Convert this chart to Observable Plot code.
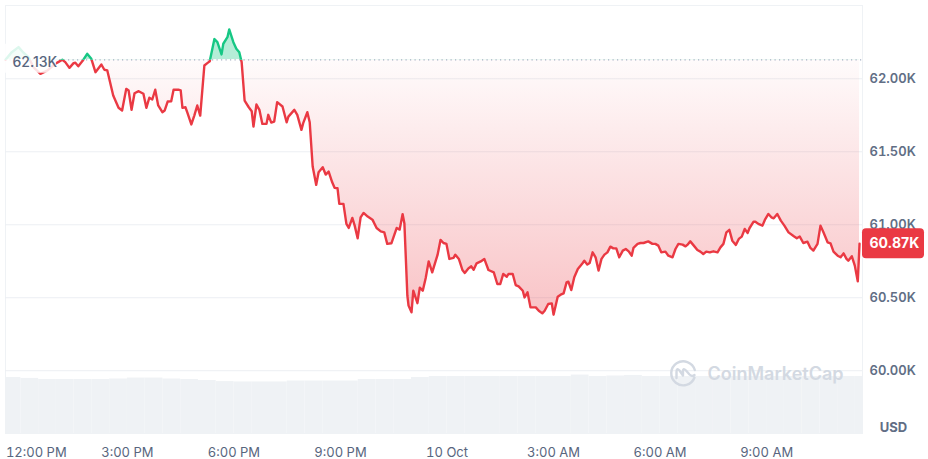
<!DOCTYPE html>
<html><head><meta charset="utf-8">
<script src="https://cdn.jsdelivr.net/npm/d3@7"></script>
<script src="https://cdn.jsdelivr.net/npm/@observablehq/plot@0.6"></script>
<style>
html,body{margin:0;padding:0;background:#fff;}
#chart{position:relative;width:928px;height:459px;}
#chart svg{position:absolute;left:0;top:0;}
</style></head><body><div id="chart"></div>
<script>
// ---- data (BTC/USD, 9–10 Oct 2024) ----
const times = [
"2024-10-09T11:34","2024-10-09T11:44","2024-10-09T11:56","2024-10-09T12:04","2024-10-09T12:13","2024-10-09T12:21","2024-10-09T12:33","2024-10-09T12:45","2024-10-09T12:58","2024-10-09T13:03",
"2024-10-09T13:10","2024-10-09T13:15","2024-10-09T13:22","2024-10-09T13:29","2024-10-09T13:32","2024-10-09T13:37","2024-10-09T13:44","2024-10-09T13:52","2024-10-09T13:59","2024-10-09T14:06",
"2024-10-09T14:16","2024-10-09T14:21","2024-10-09T14:26","2024-10-09T14:36","2024-10-09T14:45","2024-10-09T14:51","2024-10-09T14:58","2024-10-09T15:02","2024-10-09T15:07","2024-10-09T15:12",
"2024-10-09T15:19","2024-10-09T15:27","2024-10-09T15:32","2024-10-09T15:37","2024-10-09T15:42","2024-10-09T15:47","2024-10-09T15:52","2024-10-09T15:59","2024-10-09T16:03","2024-10-09T16:08",
"2024-10-09T16:14","2024-10-09T16:18","2024-10-09T16:26","2024-10-09T16:30","2024-10-09T16:33","2024-10-09T16:38","2024-10-09T16:41","2024-10-09T16:48","2024-10-09T16:53","2024-10-09T16:58",
"2024-10-09T17:03","2024-10-09T17:10","2024-10-09T17:15","2024-10-09T17:19","2024-10-09T17:27","2024-10-09T17:32","2024-10-09T17:39","2024-10-09T17:42","2024-10-09T17:49","2024-10-09T17:52",
"2024-10-09T17:59","2024-10-09T18:04","2024-10-09T18:09","2024-10-09T18:13","2024-10-09T18:18","2024-10-09T18:25","2024-10-09T18:30","2024-10-09T18:33","2024-10-09T18:38","2024-10-09T18:43",
"2024-10-09T18:48","2024-10-09T18:55","2024-10-09T18:58","2024-10-09T19:03","2024-10-09T19:08","2024-10-09T19:13","2024-10-09T19:22","2024-10-09T19:29","2024-10-09T19:32","2024-10-09T19:42",
"2024-10-09T19:47","2024-10-09T19:54","2024-10-09T19:57","2024-10-09T20:04","2024-10-09T20:08","2024-10-09T20:13","2024-10-09T20:19","2024-10-09T20:23","2024-10-09T20:30","2024-10-09T20:35",
"2024-10-09T20:40","2024-10-09T20:46","2024-10-09T20:50","2024-10-09T20:55","2024-10-09T20:58","2024-10-09T21:05","2024-10-09T21:10","2024-10-09T21:14","2024-10-09T21:20","2024-10-09T21:24",
"2024-10-09T21:29","2024-10-09T21:34","2024-10-09T21:39","2024-10-09T21:46","2024-10-09T21:54","2024-10-09T22:01","2024-10-09T22:08","2024-10-09T22:14","2024-10-09T22:19","2024-10-09T22:26",
"2024-10-09T22:35","2024-10-09T22:40","2024-10-09T22:45","2024-10-09T22:48","2024-10-09T22:53","2024-10-09T22:55","2024-10-09T23:00","2024-10-09T23:03","2024-10-09T23:10","2024-10-09T23:14",
"2024-10-09T23:19","2024-10-09T23:24","2024-10-09T23:29","2024-10-09T23:35","2024-10-09T23:41","2024-10-09T23:44","2024-10-09T23:49","2024-10-09T23:54","2024-10-09T23:59","2024-10-10T00:04",
"2024-10-10T00:11","2024-10-10T00:14","2024-10-10T00:20","2024-10-10T00:26","2024-10-10T00:30","2024-10-10T00:36","2024-10-10T00:41","2024-10-10T00:45","2024-10-10T00:50","2024-10-10T00:57",
"2024-10-10T01:03","2024-10-10T01:10","2024-10-10T01:19","2024-10-10T01:25","2024-10-10T01:30","2024-10-10T01:35","2024-10-10T01:41","2024-10-10T01:44","2024-10-10T01:51","2024-10-10T01:56",
"2024-10-10T02:01","2024-10-10T02:08","2024-10-10T02:11","2024-10-10T02:16","2024-10-10T02:21","2024-10-10T02:30","2024-10-10T02:35","2024-10-10T02:41","2024-10-10T02:45","2024-10-10T02:51",
"2024-10-10T02:57","2024-10-10T03:00","2024-10-10T03:07","2024-10-10T03:12","2024-10-10T03:17","2024-10-10T03:22","2024-10-10T03:25","2024-10-10T03:30","2024-10-10T03:35","2024-10-10T03:41",
"2024-10-10T03:49","2024-10-10T03:52","2024-10-10T03:57","2024-10-10T04:01","2024-10-10T04:06","2024-10-10T04:11","2024-10-10T04:16","2024-10-10T04:21","2024-10-10T04:26","2024-10-10T04:31",
"2024-10-10T04:36","2024-10-10T04:41","2024-10-10T04:46","2024-10-10T04:51","2024-10-10T04:57","2024-10-10T05:02","2024-10-10T05:07","2024-10-10T05:12","2024-10-10T05:15","2024-10-10T05:22",
"2024-10-10T05:27","2024-10-10T05:32","2024-10-10T05:40","2024-10-10T05:47","2024-10-10T05:52","2024-10-10T05:57","2024-10-10T06:02","2024-10-10T06:09","2024-10-10T06:14","2024-10-10T06:21",
"2024-10-10T06:26","2024-10-10T06:31","2024-10-10T06:38","2024-10-10T06:43","2024-10-10T06:46","2024-10-10T06:51","2024-10-10T06:57","2024-10-10T07:03","2024-10-10T07:08","2024-10-10T07:13",
"2024-10-10T07:18","2024-10-10T07:24","2024-10-10T07:30","2024-10-10T07:37","2024-10-10T07:42","2024-10-10T07:47","2024-10-10T07:52","2024-10-10T07:57","2024-10-10T08:02","2024-10-10T08:08",
"2024-10-10T08:13","2024-10-10T08:18","2024-10-10T08:23","2024-10-10T08:28","2024-10-10T08:31","2024-10-10T08:38","2024-10-10T08:41","2024-10-10T08:46","2024-10-10T08:53","2024-10-10T08:57",
"2024-10-10T09:03","2024-10-10T09:08","2024-10-10T09:12","2024-10-10T09:18","2024-10-10T09:24","2024-10-10T09:30","2024-10-10T09:37","2024-10-10T09:46","2024-10-10T09:51","2024-10-10T09:56",
"2024-10-10T10:02","2024-10-10T10:09","2024-10-10T10:14","2024-10-10T10:19","2024-10-10T10:26","2024-10-10T10:31","2024-10-10T10:36","2024-10-10T10:43","2024-10-10T10:48","2024-10-10T10:53",
"2024-10-10T11:00","2024-10-10T11:05","2024-10-10T11:10","2024-10-10T11:15","2024-10-10T11:18","2024-10-10T11:24","2024-10-10T11:29","2024-10-10T11:34","2024-10-10T11:37"
];
const prices = [
62130,62180,62217,62180,62148,62080,62034,62057,62103,62114,
62130,62114,62075,62107,62110,62086,62121,62171,62137,62045,
62098,62062,62057,61885,61801,61783,61931,61920,61787,61901,
61915,61897,61801,61870,61858,61925,61817,61771,61783,61844,
61846,61925,61925,61920,61801,61805,61771,61687,61748,61817,
61748,62091,62107,62119,62272,62251,62167,62240,62285,62338,
62251,62206,62182,62114,61851,61805,61778,61673,61824,61787,
61691,61691,61753,61700,61707,61840,61810,61702,61741,61787,
61753,61650,61696,61771,61702,61399,61273,61360,61394,61344,
61364,61291,61253,61250,61143,61143,61006,60978,61047,60994,
60907,61051,61081,61056,61035,60978,60955,60948,60869,60873,
60978,60967,61073,61008,60514,60446,60400,60548,60463,60569,
60548,60635,60749,60674,60754,60793,60896,60875,60869,60766,
60773,60795,60766,60690,60670,60701,60715,60692,60736,60749,
60766,60690,60674,60594,60594,60663,60644,60663,60663,60587,
60578,60548,60502,60537,60434,60434,60411,60393,60411,60457,
60461,60384,60507,60521,60530,60605,60610,60553,60640,60697,
60736,60754,60727,60738,60811,60777,60686,60766,60795,60811,
60850,60838,60838,60777,60823,60834,60818,60788,60841,60869,
60875,60875,60886,60869,60869,60857,60811,60816,60788,60777,
60834,60869,60864,60852,60862,60886,60857,60827,60816,60800,
60816,60811,60818,60811,60845,60869,60948,60965,60891,60862,
60903,60919,60971,60944,60976,61021,61021,61006,60994,61033,
61074,61051,61044,61074,61028,60994,60948,60921,60907,60919,
60875,60884,60841,60823,60869,60994,60948,60880,60873,60816,
60788,60777,60804,60766,60754,60784,60720,60612,60870
];
// 30-minute volume bars (relative)
const volumeTimes = [
"2024-10-09T11:30","2024-10-09T12:00","2024-10-09T12:30","2024-10-09T13:00","2024-10-09T13:30","2024-10-09T14:00","2024-10-09T14:30","2024-10-09T15:00","2024-10-09T15:30","2024-10-09T16:00",
"2024-10-09T16:30","2024-10-09T17:00","2024-10-09T17:30","2024-10-09T18:00","2024-10-09T18:30","2024-10-09T19:00","2024-10-09T19:30","2024-10-09T20:00","2024-10-09T20:30","2024-10-09T21:00",
"2024-10-09T21:30","2024-10-09T22:00","2024-10-09T22:30","2024-10-09T23:00","2024-10-09T23:30","2024-10-10T00:00","2024-10-10T00:30","2024-10-10T01:00","2024-10-10T01:30","2024-10-10T02:00",
"2024-10-10T02:30","2024-10-10T03:00","2024-10-10T03:30","2024-10-10T04:00","2024-10-10T04:30","2024-10-10T05:00","2024-10-10T05:30","2024-10-10T06:00","2024-10-10T06:30","2024-10-10T07:00",
"2024-10-10T07:30","2024-10-10T08:00","2024-10-10T08:30","2024-10-10T09:00","2024-10-10T09:30","2024-10-10T10:00","2024-10-10T10:30","2024-10-10T11:00","2024-10-10T11:30"
];
const volumes = [
30.1,29.6,29.0,29.0,29.0,29.0,29.3,29.8,29.8,29.3,
29.0,28.5,27.9,27.7,27.7,27.7,28.2,28.2,28.2,28.2,
29.0,29.0,29.0,30.1,30.6,30.6,30.6,30.6,30.6,30.6,
30.6,30.6,31.4,30.6,30.9,31.2,30.6,30.6,30.6,30.6,
30.6,30.6,30.6,30.6,30.6,30.6,30.6,30.6,30.6
];
const xDomainLabels = ["2024-10-09T11:34","2024-10-10T11:42"];
const xTickLabels = ["2024-10-09T12:00","2024-10-09T15:00","2024-10-09T18:00","2024-10-09T21:00","2024-10-10T00:00","2024-10-10T03:00","2024-10-10T06:00","2024-10-10T09:00"];
const yTicks = [60000,60500,61000,61500,62000];
const yDomain = [59570,62502];
const openPrice = 62130;

// ---- build ----
const data = times.map((t,i)=>({t:new Date(t), p:prices[i]}));
const vol = volumeTimes.map((t,i)=>({t:new Date(t), v:volumes[i]}));
const xDomain = xDomainLabels.map(d=>new Date(d));
const xTicks = xTickLabels.map(d=>new Date(d));
const last = data[data.length-1];
const fmtK = d => (d/1000).toFixed(2)+"K";
const fmtT = d => d.getHours()===0 ? d3.timeFormat("%-d %b")(d) : d3.timeFormat("%-I:%M %p")(d);
const W=928,H=459, M={top:5,right:66,bottom:26,left:5};
const FONT = "Inter, 'Noto Sans', sans-serif";
const gray = "#58667e";

const volPlot = Plot.plot({
  width:W,height:H,marginTop:M.top,marginRight:M.right,marginBottom:M.bottom,marginLeft:M.left,
  style:{background:"transparent"},
  x:{type:"time",domain:xDomain,axis:null},
  y:{domain:[0,230],axis:null},
  marks:[
    Plot.rectY(vol,{x:"t",interval:d3.timeMinute.every(30),y:"v",fill:"#eff2f5",inset:0,clip:true})
  ]
});

const plot = Plot.plot({
  width:W,height:H,marginTop:M.top,marginRight:M.right,marginBottom:M.bottom,marginLeft:M.left,
  style:{background:"transparent",fontFamily:FONT,fontSize:"13px",color:gray},
  x:{type:"time",domain:xDomain,label:null},
  y:{domain:yDomain,label:null},
  marks:[
    Plot.frame({stroke:"#eff2f5"}),
    Plot.gridY(yTicks,{stroke:"#eceff3",strokeOpacity:1}),
    Plot.areaY(data,{x:"t",y1:()=>openPrice,y2:"p",fill:"url(#redFill)"}),
    Plot.areaY(data,{x:"t",y1:()=>openPrice,y2:"p",fill:"#16c784",fillOpacity:0.32}),
    Plot.ruleY([openPrice],{stroke:"#a6b0c3",strokeDasharray:"1.2,3.3",strokeWidth:1.2}),
    Plot.lineY(data,{x:"t",y:"p",stroke:"#ea3943",strokeWidth:2.4}),
    Plot.lineY(data,{x:"t",y:"p",stroke:"#16c784",strokeWidth:2.4}),
    Plot.axisY(yTicks,{anchor:"right",tickSize:0,tickPadding:7,tickFormat:fmtK,fill:"#616e85",fontWeight:600,fontSize:13,label:null}),
    Plot.axisX(xTicks.slice(1),{tickSize:0,tickPadding:14,tickFormat:fmtT,fill:gray,fontSize:13,label:null}),
    Plot.axisX(xTicks.slice(0,1),{tickSize:0,tickPadding:14,tickFormat:fmtT,fill:gray,fontSize:13,textAnchor:"start",dx:-15,label:null}),
    Plot.text(["USD"],{frameAnchor:"bottom-right",textAnchor:"middle",lineAnchor:"middle",dx:31,dy:-6,fill:"#616e85",fontWeight:700,fontSize:13}),
    Plot.text(["CoinMarketCap"],{frameAnchor:"bottom-right",textAnchor:"end",lineAnchor:"middle",dx:-19,dy:-59,fill:"#d3d9e2",fontWeight:600,fontSize:18}),
    Plot.text([openPrice],{x:()=>xDomain[0],y:d=>d,text:fmtK,textAnchor:"start",dx:7,dy:2.5,fill:gray,fontWeight:500,fontSize:14}),
    Plot.text([last],{x:()=>xDomain[1],y:"p",text:d=>fmtK(d.p),textAnchor:"start",dx:7,fill:"white",fontWeight:700,fontSize:14})
  ]
});

const chart = document.getElementById("chart");
chart.appendChild(volPlot);
chart.appendChild(plot);

// ---- post-processing: gradients, clips, label boxes, logo ----
const Y = plot.scale("y");
const yb = Y.apply(openPrice);
const s = d3.select(plot);
const defs = s.insert("defs",":first-child");
const grad = defs.append("linearGradient").attr("id","redFill").attr("gradientUnits","userSpaceOnUse")
  .attr("x1",0).attr("x2",0).attr("y1",yb).attr("y2",Y.apply(d3.min(prices)));
grad.append("stop").attr("offset",0).attr("stop-color","#ea3943").attr("stop-opacity",0.02);
grad.append("stop").attr("offset",1).attr("stop-color","#ea3943").attr("stop-opacity",0.3);
defs.append("clipPath").attr("id","clipAbove").append("rect").attr("x",0).attr("y",0).attr("width",W).attr("height",yb);
defs.append("clipPath").attr("id","clipBelow").append("rect").attr("x",0).attr("y",yb).attr("width",W).attr("height",H-yb);
const areas = plot.querySelectorAll('g[aria-label="area"]');
areas[0].setAttribute("clip-path","url(#clipBelow)");
areas[1].setAttribute("clip-path","url(#clipAbove)");
const lines = plot.querySelectorAll('g[aria-label="line"]');
lines[0].setAttribute("clip-path","url(#clipBelow)");
lines[1].setAttribute("clip-path","url(#clipAbove)");
lines.forEach(g=>g.setAttribute("stroke-linejoin","round"));

const texts = plot.querySelectorAll('g[aria-label="text"]');
// watermark logo
const wm = texts[1];
const logo = document.createElementNS("http://www.w3.org/2000/svg","g");
wm.parentNode.insertBefore(logo,wm);
const lg = d3.select(logo).attr("transform",`translate(${W-M.right-179},${H-M.bottom-60})`)
  .attr("fill","none").attr("stroke","#d3d9e2").attr("stroke-width",2.4).attr("stroke-linecap","round").attr("stroke-linejoin","round");
lg.append("path").attr("d","M 11.5 4.5 A 12 12 0 1 1 11.8 -3");
lg.append("path").attr("d","M -6.5 5 L -6.5 -1 Q -6.5 -5.5 -3.5 -2.5 L 0 2.5 L 0 -2 Q 0 -5.5 3 -2.5 L 6.5 1.5 Q 9 4 11.5 2");
// start label box
const startG = texts[2];
const bb = startG.getBBox();
d3.select(startG.parentNode).insert("rect",()=>startG)
  .attr("x",bb.x-6).attr("y",bb.y-6).attr("width",bb.width+12).attr("height",bb.height+12)
  .attr("rx",6).attr("fill","white").attr("fill-opacity",0.85);
// end label box
const endG = texts[3];
const yl = Y.apply(last.p);
d3.select(endG.parentNode).insert("rect",()=>endG)
  .attr("x",W-M.right).attr("y",yl-15).attr("width",62).attr("height",30)
  .attr("rx",4).attr("fill","#ea3943");
</script>
</body></html>
